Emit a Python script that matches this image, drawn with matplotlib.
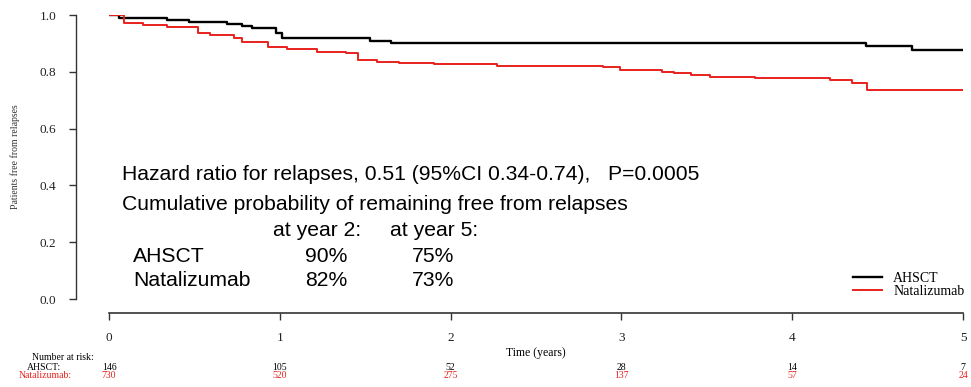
import numpy as np
import matplotlib
matplotlib.use('Agg')
import matplotlib.pyplot as plt
import matplotlib.transforms as mtransforms

# Kaplan-Meier steps
ahsct_t = [0, 0.06, 0.34, 0.47, 0.69, 0.78, 0.84, 0.98, 1.01, 1.53, 1.65, 4.43, 4.70, 5.0]
ahsct_s = [1.0, 0.988, 0.982, 0.975, 0.968, 0.961, 0.953, 0.938, 0.918, 0.908, 0.902, 0.891, 0.877, 0.877]

nat_t = [0, 0.09, 0.20, 0.34, 0.52, 0.59, 0.73, 0.78, 0.93, 1.04, 1.22, 1.39, 1.46, 1.57,
         1.70, 1.90, 2.27, 2.89, 2.99, 3.24, 3.31, 3.41, 3.52, 3.78, 4.22, 4.35, 4.44, 5.0]
nat_s = [1.0, 0.973, 0.965, 0.957, 0.938, 0.930, 0.918, 0.906, 0.886, 0.879, 0.871, 0.865, 0.842, 0.836,
         0.832, 0.826, 0.822, 0.816, 0.806, 0.800, 0.795, 0.789, 0.783, 0.777, 0.771, 0.762, 0.736, 0.736]

risk_times = [0, 1, 2, 3, 4, 5]
risk_ahsct = [146, 105, 52, 28, 14, 7]
risk_nat = [730, 520, 275, 137, 57, 24]

red = '#e8201c'
serif = 'Liberation Serif'
sans = 'Liberation Sans'

fig = plt.figure(figsize=(9.71, 3.87), dpi=100)
W, H = 971, 387
ax = fig.add_axes([109 / W, (H - 299) / H, 854 / W, 284 / H])

ax.step(ahsct_t, ahsct_s, where='post', color='black', lw=1.7, label='AHSCT')
ax.step(nat_t, nat_s, where='post', color=red, lw=1.4, label='Natalizumab')

ax.set_xlim(0, 5)
ax.set_ylim(0, 1)
for s in ['top', 'right']:
    ax.spines[s].set_visible(False)
ax.spines['left'].set_position(('outward', 24))
ax.spines['bottom'].set_position(('outward', 10))
ax.spines['left'].set_linewidth(1.0)
ax.spines['bottom'].set_linewidth(1.2)
ax.spines['left'].set_color('#333333')
ax.spines['bottom'].set_color('#333333')

ax.set_xticks(risk_times)
ax.set_yticks([0, 0.2, 0.4, 0.6, 0.8, 1.0])
ax.set_yticklabels(['0.0', '0.2', '0.4', '0.6', '0.8', '1.0'])
ax.tick_params(axis='both', direction='out', length=5, width=1.0, colors='#333333')
ax.tick_params(axis='x', pad=9, labelsize=9.5)
ax.tick_params(axis='y', pad=9, labelsize=9.5)
for lab in ax.get_xticklabels() + ax.get_yticklabels():
    lab.set_fontfamily(serif)
    lab.set_color('#222222')

fig.text(15 / W, 1 - 157 / H, 'Patients free from relapses', rotation=90, ha='center', va='center',
         fontsize=7, family=serif, color='#333333')
fig.text(536 / W, 1 - 353 / H, 'Time (years)', ha='center', va='center', fontsize=8.5, family=serif)

leg = ax.legend(loc='upper left', bbox_to_anchor=((853 - 109) / 854, (299 - 272) / 284),
                bbox_transform=ax.transAxes, frameon=False, handlelength=2.1, handletextpad=0.8,
                borderaxespad=0, borderpad=0, labelspacing=0.0, prop={'family': serif, 'size': 10})

# annotations
tf = dict(fontsize=15.2, family=sans, va='center')
fig.text(122 / W, 1 - 175 / H, 'Hazard ratio for relapses, 0.51 (95%CI 0.34-0.74),   P=0.0005', **tf)
fig.text(122 / W, 1 - 205 / H, 'Cumulative probability of remaining free from relapses', **tf)
fig.text(273 / W, 1 - 231 / H, 'at year 2:', **tf)
fig.text(390 / W, 1 - 231 / H, 'at year 5:', **tf)
fig.text(133 / W, 1 - 256 / H, 'AHSCT', **tf)
fig.text(305 / W, 1 - 256 / H, '90%', **tf)
fig.text(412 / W, 1 - 256 / H, '75%', **tf)
fig.text(133 / W, 1 - 281 / H, 'Natalizumab', **tf)
fig.text(305 / W, 1 - 281 / H, '82%', **tf)
fig.text(412 / W, 1 - 281 / H, '73%', **tf)

# number at risk table
trans = mtransforms.blended_transform_factory(ax.transData, fig.transFigure)
rf = dict(ha='center', va='center', fontsize=7, family=serif)
fig.text(63 / W, 1 - 357 / H, 'Number at risk:', **rf)
fig.text(44 / W, 1 - 367 / H, 'AHSCT:', **rf)
fig.text(45 / W, 1 - 376 / H, 'Natalizumab:', color=red, **rf)
for t, a, n in zip(risk_times, risk_ahsct, risk_nat):
    ax.text(t, 1 - 367 / H, str(a), transform=trans, **rf)
    ax.text(t, 1 - 376 / H, str(n), transform=trans, color=red, **rf)

fig.savefig('out.png', dpi=100)
